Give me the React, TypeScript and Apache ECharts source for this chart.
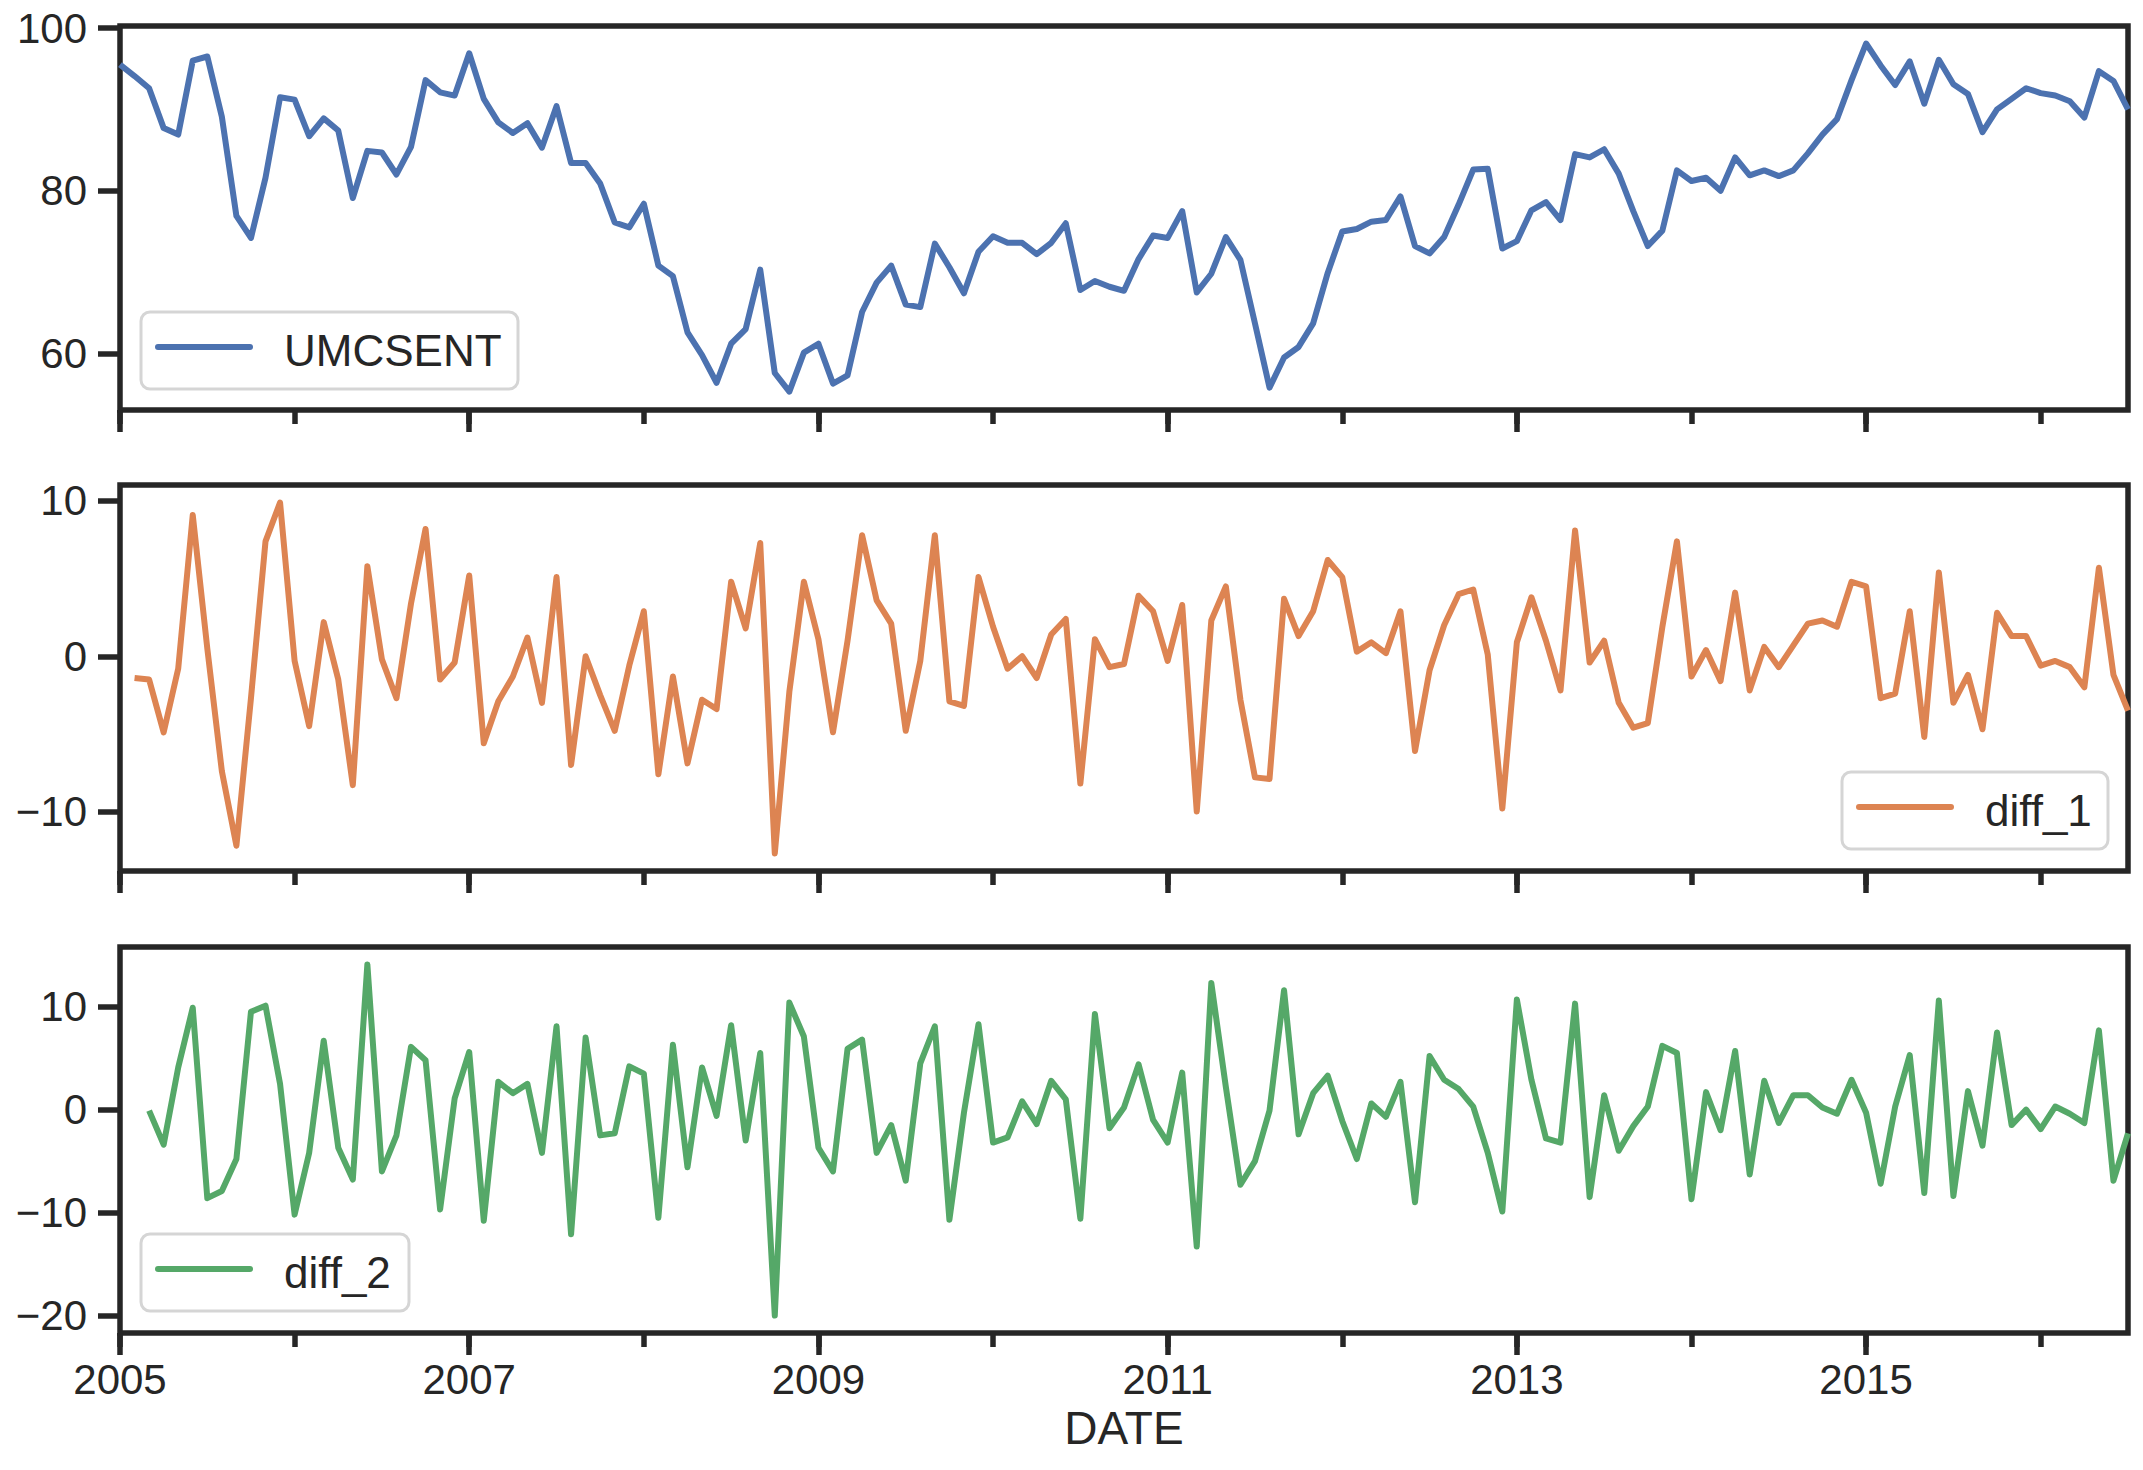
import React, { useEffect, useRef } from "react";
import * as echarts from "echarts";

// Monthly data, first value = Jan 2005
const START_YEAR = 2005;

const umcsent = [
  95.5, 94.1, 92.6, 87.7, 86.9, 96.0, 96.5, 89.1, 76.9, 74.2, 81.6, 91.5,
  91.2, 86.7, 88.9, 87.4, 79.1, 84.9, 84.7, 82.0, 85.4, 93.6, 92.1, 91.7,
  96.9, 91.3, 88.4, 87.1, 88.3, 85.3, 90.4, 83.4, 83.4, 80.9, 76.1, 75.5,
  78.4, 70.8, 69.5, 62.6, 59.8, 56.4, 61.2, 63.0, 70.3, 57.6, 55.3, 60.1,
  61.2, 56.3, 57.3, 65.1, 68.7, 70.8, 66.0, 65.7, 73.5, 70.6, 67.4, 72.5,
  74.4, 73.6, 73.6, 72.2, 73.6, 76.0, 67.8, 68.9, 68.2, 67.7, 71.6, 74.5,
  74.2, 77.5, 67.5, 69.8, 74.3, 71.5, 63.7, 55.8, 59.5, 60.8, 63.7, 69.9,
  75.0, 75.3, 76.2, 76.4, 79.3, 73.2, 72.3, 74.3, 78.3, 82.6, 82.7, 72.9,
  73.8, 77.6, 78.6, 76.4, 84.5, 84.1, 85.1, 82.1, 77.5, 73.2, 75.1, 82.5,
  81.2, 81.6, 80.0, 84.1, 81.9, 82.5, 81.8, 82.5, 84.6, 86.9, 88.8, 93.6,
  98.1, 95.4, 93.0, 95.9, 90.7, 96.1, 93.1, 91.9, 87.2, 90.0, 91.3, 92.6,
  92.0, 91.7, 91.0, 89.0, 94.7, 93.5, 90.0,
];

// first value = Feb 2005
const diff_1 = [
  -1.4, -1.5, -4.9, -0.8, 9.1, 0.5, -7.4, -12.2, -2.7, 7.4, 9.9,
  -0.3, -4.5, 2.2, -1.5, -8.3, 5.8, -0.2, -2.7, 3.4, 8.2, -1.5, -0.4,
  5.2, -5.6, -2.9, -1.3, 1.2, -3.0, 5.1, -7.0, 0.0, -2.5, -4.8, -0.6,
  2.9, -7.6, -1.3, -6.9, -2.8, -3.4, 4.8, 1.8, 7.3, -12.7, -2.3, 4.8,
  1.1, -4.9, 1.0, 7.8, 3.6, 2.1, -4.8, -0.3, 7.8, -2.9, -3.2, 5.1,
  1.9, -0.8, 0.0, -1.4, 1.4, 2.4, -8.2, 1.1, -0.7, -0.5, 3.9, 2.9,
  -0.3, 3.3, -10.0, 2.3, 4.5, -2.8, -7.8, -7.9, 3.7, 1.3, 2.9, 6.2,
  5.1, 0.3, 0.9, 0.2, 2.9, -6.1, -0.9, 2.0, 4.0, 4.3, 0.1, -9.8,
  0.9, 3.8, 1.0, -2.2, 8.1, -0.4, 1.0, -3.0, -4.6, -4.3, 1.9, 7.4,
  -1.3, 0.4, -1.6, 4.1, -2.2, 0.6, -0.7, 0.7, 2.1, 2.3, 1.9, 4.8,
  4.5, -2.7, -2.4, 2.9, -5.2, 5.4, -3.0, -1.2, -4.7, 2.8, 1.3, 1.3,
  -0.6, -0.3, -0.7, -2.0, 5.7, -1.2, -3.5,
];

// first value = Mar 2005
const diff_2 = [
  -0.1, -3.4, 4.1, 9.9, -8.6, -7.9, -4.8, 9.5, 10.1, 2.5,
  -10.2, -4.2, 6.7, -3.7, -6.8, 14.1, -6.0, -2.5, 6.1, 4.8, -9.7, 1.1,
  5.6, -10.8, 2.7, 1.6, 2.5, -4.2, 8.1, -12.1, 7.0, -2.5, -2.3, 4.2,
  3.5, -10.5, 6.3, -5.6, 4.1, -0.6, 8.2, -3.0, 5.5, -20.0, 10.4, 7.1,
  -3.7, -6.0, 5.9, 6.8, -4.2, -1.5, -6.9, 4.5, 8.1, -10.7, -0.3, 8.3,
  -3.2, -2.7, 0.8, -1.4, 2.8, 1.0, -10.6, 9.3, -1.8, 0.2, 4.4, -1.0,
  -3.2, 3.6, -13.3, 12.3, 2.2, -7.3, -5.0, -0.1, 11.6, -2.4, 1.6, 3.3,
  -1.1, -4.8, 0.6, -0.7, 2.7, -9.0, 5.2, 2.9, 2.0, 0.3, -4.2, -9.9,
  10.7, 2.9, -2.8, -3.2, 10.3, -8.5, 1.4, -4.0, -1.6, 0.3, 6.2, 5.5,
  -8.7, 1.7, -2.0, 5.7, -6.3, 2.8, -1.3, 1.4, 1.4, 0.2, -0.4, 2.9,
  -0.3, -7.2, 0.3, 5.3, -8.1, 10.6, -8.4, 1.8, -3.5, 7.5, -1.5, 0.0,
  -1.9, 0.3, -0.4, -1.3, 7.7, -6.9, -2.3,
];

const seriesNames = ["UMCSENT", "diff_1", "diff_2"];
const seriesStartOffset = [0, 1, 2];
const seriesValues = [umcsent, diff_1, diff_2];
const colors = ["#4C72B0", "#DD8452", "#55A868"];

const yTicks = [
  [60, 80, 100],
  [-10, 0, 10],
  [-20, -10, 0, 10],
];
const yLimits = [
  [53.05, 100.25],
  [-13.83, 11.03],
  [-21.7, 15.8],
];

const LAST_INDEX = umcsent.length - 1;
const yearTickIdx: number[] = [];
for (let m = 0; m <= LAST_INDEX; m += 12) yearTickIdx.push(m);
const labeledYearIdx = yearTickIdx.filter((m) => (m / 12) % 2 === 0);

const TEXT = "#262626";
const FONT = "'Liberation Sans', Arial, sans-serif";
const SPINE_W = 5.5;

const GRIDS = [
  { left: 120, top: 26, width: 2008, height: 384 },
  { left: 120, top: 485, width: 2008, height: 386 },
  { left: 120, top: 947, width: 2008, height: 386 },
];

const minus = (v: number) => String(v).replace("-", "\u2212");

function legendGraphic(
  x: number,
  y: number,
  w: number,
  color: string,
  label: string
) {
  return {
    type: "group",
    children: [
      {
        type: "rect",
        shape: { x, y, width: w, height: 77, r: 9 },
        style: { fill: "rgba(255,255,255,0.8)", stroke: "#d5d5d5", lineWidth: 3 },
      },
      {
        type: "line",
        shape: { x1: x + 17, y1: y + 35, x2: x + 109, y2: y + 35 },
        style: { stroke: color, lineWidth: 6, lineCap: "round" },
      },
      {
        type: "text",
        x: x + 143,
        y: y + 38,
        style: {
          text: label,
          fill: TEXT,
          fontSize: 44,
          fontFamily: FONT,
          verticalAlign: "middle",
          align: "left",
        },
      },
    ],
  };
}

export default function App() {
  const ref = useRef<HTMLDivElement>(null);

  useEffect(() => {
    document.body.style.margin = "0";
    if (!ref.current) return;
    const chart = echarts.init(ref.current, undefined, { renderer: "svg" });

    const grid = GRIDS.map((g) => ({
      ...g,
      show: true,
      borderColor: TEXT,
      borderWidth: SPINE_W,
      backgroundColor: "transparent",
      containLabel: false,
    }));

    const xAxis: any[] = [];
    GRIDS.forEach((_, i) => {
      xAxis.push({
        type: "value",
        gridIndex: i,
        min: 0,
        max: LAST_INDEX,
        position: "bottom",
        axisLine: { show: false, onZero: false },
        splitLine: { show: false },
        axisTick: {
          show: true,
          customValues: labeledYearIdx,
          length: 22,
          lineStyle: { color: TEXT, width: SPINE_W },
        },
        axisLabel: {
          show: i === 2,
          customValues: labeledYearIdx,
          formatter: (v: number) => String(START_YEAR + Math.round(v / 12)),
          fontSize: 42,
          color: TEXT,
          fontFamily: FONT,
          margin: 25,
        },
        name: i === 2 ? "DATE" : "",
        nameLocation: "middle",
        nameGap: 72,
        nameTextStyle: { fontSize: 46, color: TEXT, fontFamily: FONT },
      });
      xAxis.push({
        type: "value",
        gridIndex: i,
        min: 0,
        max: LAST_INDEX,
        position: "bottom",
        axisLine: { show: false, onZero: false },
        splitLine: { show: false },
        axisTick: {
          show: true,
          customValues: yearTickIdx,
          length: 14,
          lineStyle: { color: TEXT, width: SPINE_W },
        },
        axisLabel: { show: false },
      });
    });

    const yAxis = GRIDS.map((_, i) => ({
      type: "value",
      gridIndex: i,
      min: yLimits[i][0],
      max: yLimits[i][1],
      axisLine: { show: false, onZero: false },
      splitLine: { show: false },
      axisTick: {
        show: true,
        customValues: yTicks[i],
        length: 22,
        lineStyle: { color: TEXT, width: SPINE_W },
      },
      axisLabel: {
        customValues: yTicks[i],
        formatter: (v: number) => minus(v),
        fontSize: 42,
        color: TEXT,
        fontFamily: FONT,
        margin: 33,
      },
    }));

    const series = seriesValues.map((vals, i) => ({
      type: "line",
      name: seriesNames[i],
      xAxisIndex: i * 2,
      yAxisIndex: i,
      data: vals.map((v, k) => [k + seriesStartOffset[i], v]),
      showSymbol: false,
      symbol: "none",
      lineStyle: { color: colors[i], width: 6, join: "round", cap: "butt" },
      itemStyle: { color: colors[i] },
      clip: true,
      z: 3,
    }));

    const graphic = [
      legendGraphic(141, 312, 377, colors[0], seriesNames[0]),
      legendGraphic(1842, 772, 266, colors[1], seriesNames[1]),
      legendGraphic(141, 1234, 268, colors[2], seriesNames[2]),
    ];

    chart.setOption({
      animation: false,
      backgroundColor: "#ffffff",
      textStyle: { fontFamily: FONT },
      grid,
      xAxis,
      yAxis,
      series,
      graphic,
    });

    return () => chart.dispose();
  }, []);

  return <div ref={ref} style={{ width: 2143, height: 1470 }} />;
}
